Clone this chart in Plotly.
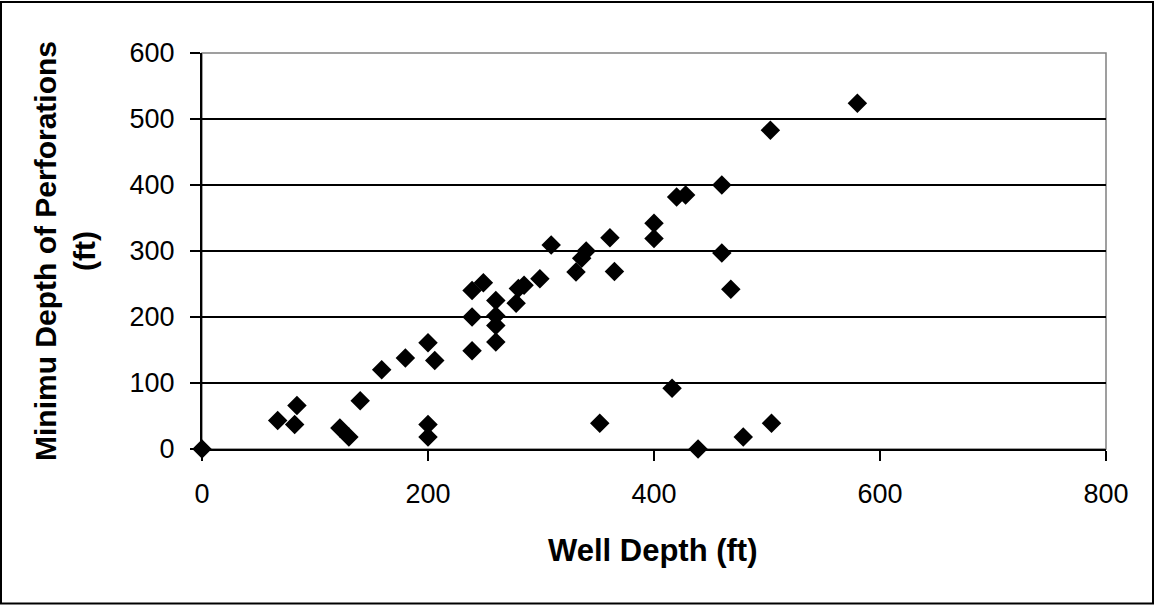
import plotly.graph_objects as go

well_depth = [0, 67, 82, 84, 122, 130, 140, 159, 180, 200, 206, 200, 200,
              239, 249, 239, 239, 260, 260, 260, 260, 280, 285, 278, 299,
              309, 331, 336, 340, 361, 365, 400, 400, 416, 420, 428, 460,
              460, 468, 503, 580, 352, 439, 479, 504]
min_perf_depth = [0, 43, 37, 66, 32, 18, 73, 120, 138, 161, 134, 37, 18,
                  240, 252, 200, 149, 225, 202, 187, 162, 243, 248, 221, 258,
                  309, 268, 289, 300, 320, 269, 342, 319, 92, 382, 385, 400,
                  297, 242, 483, 524, 39, 0, 18, 39]

x_ticks = [0, 200, 400, 600, 800]
y_ticks = [0, 100, 200, 300, 400, 500, 600]

FONT = "Arial, Liberation Sans, sans-serif"
W, H = 1155, 605
L, R, T, B = 202, 49, 53, 156
pw, ph = W - L - R, H - T - B


def px(x):
    return (x - L) / pw


def py(y):
    return (H - B - y) / ph


fig = go.Figure()
fig.add_trace(go.Scatter(
    x=well_depth, y=min_perf_depth, mode="markers", cliponaxis=False,
    marker=dict(symbol="diamond", size=15, color="black", line=dict(width=0)),
    showlegend=False,
))

fig.update_layout(
    width=W, height=H,
    margin=dict(l=L, r=R, t=T, b=B),
    paper_bgcolor="white", plot_bgcolor="white",
    font=dict(family=FONT, color="black"),
    xaxis=dict(range=[0, 800], tickvals=x_ticks, showgrid=False, zeroline=False,
               showline=True, linecolor="black", linewidth=2,
               ticks="outside", ticklen=10, tickwidth=2, tickcolor="black",
               tickfont=dict(size=27, family=FONT), ticklabelstandoff=10,
               layer="below traces"),
    yaxis=dict(range=[0, 600], tickvals=y_ticks, showgrid=True,
               gridcolor="black", gridwidth=1.5, zeroline=False,
               showline=True, linecolor="black", linewidth=2,
               ticks="outside", ticklen=10, tickwidth=2, tickcolor="black",
               tickfont=dict(size=27, family=FONT), ticklabelstandoff=10,
               layer="below traces"),
    shapes=[
        dict(type="rect", xref="paper", yref="paper", x0=0, x1=1, y0=0, y1=1,
             line=dict(color="#808080", width=1.5), layer="below"),
        dict(type="rect", xref="paper", yref="paper",
             x0=px(1), x1=px(1153), y0=py(603.5), y1=py(2),
             line=dict(color="black", width=2), layer="below"),
    ],
    annotations=[
        dict(text="<b>Well Depth (ft)</b>", xref="paper", yref="paper",
             x=px(653), y=py(550), showarrow=False,
             font=dict(size=31, family=FONT), xanchor="center", yanchor="middle"),
        dict(text="<b>Minimu Depth of Perforations<br>(ft)</b>", xref="paper",
             yref="paper", x=px(65), y=py(251), showarrow=False, textangle=-90,
             font=dict(size=30, family=FONT), xanchor="center", yanchor="middle"),
    ],
)

fig.write_html("out.html")
